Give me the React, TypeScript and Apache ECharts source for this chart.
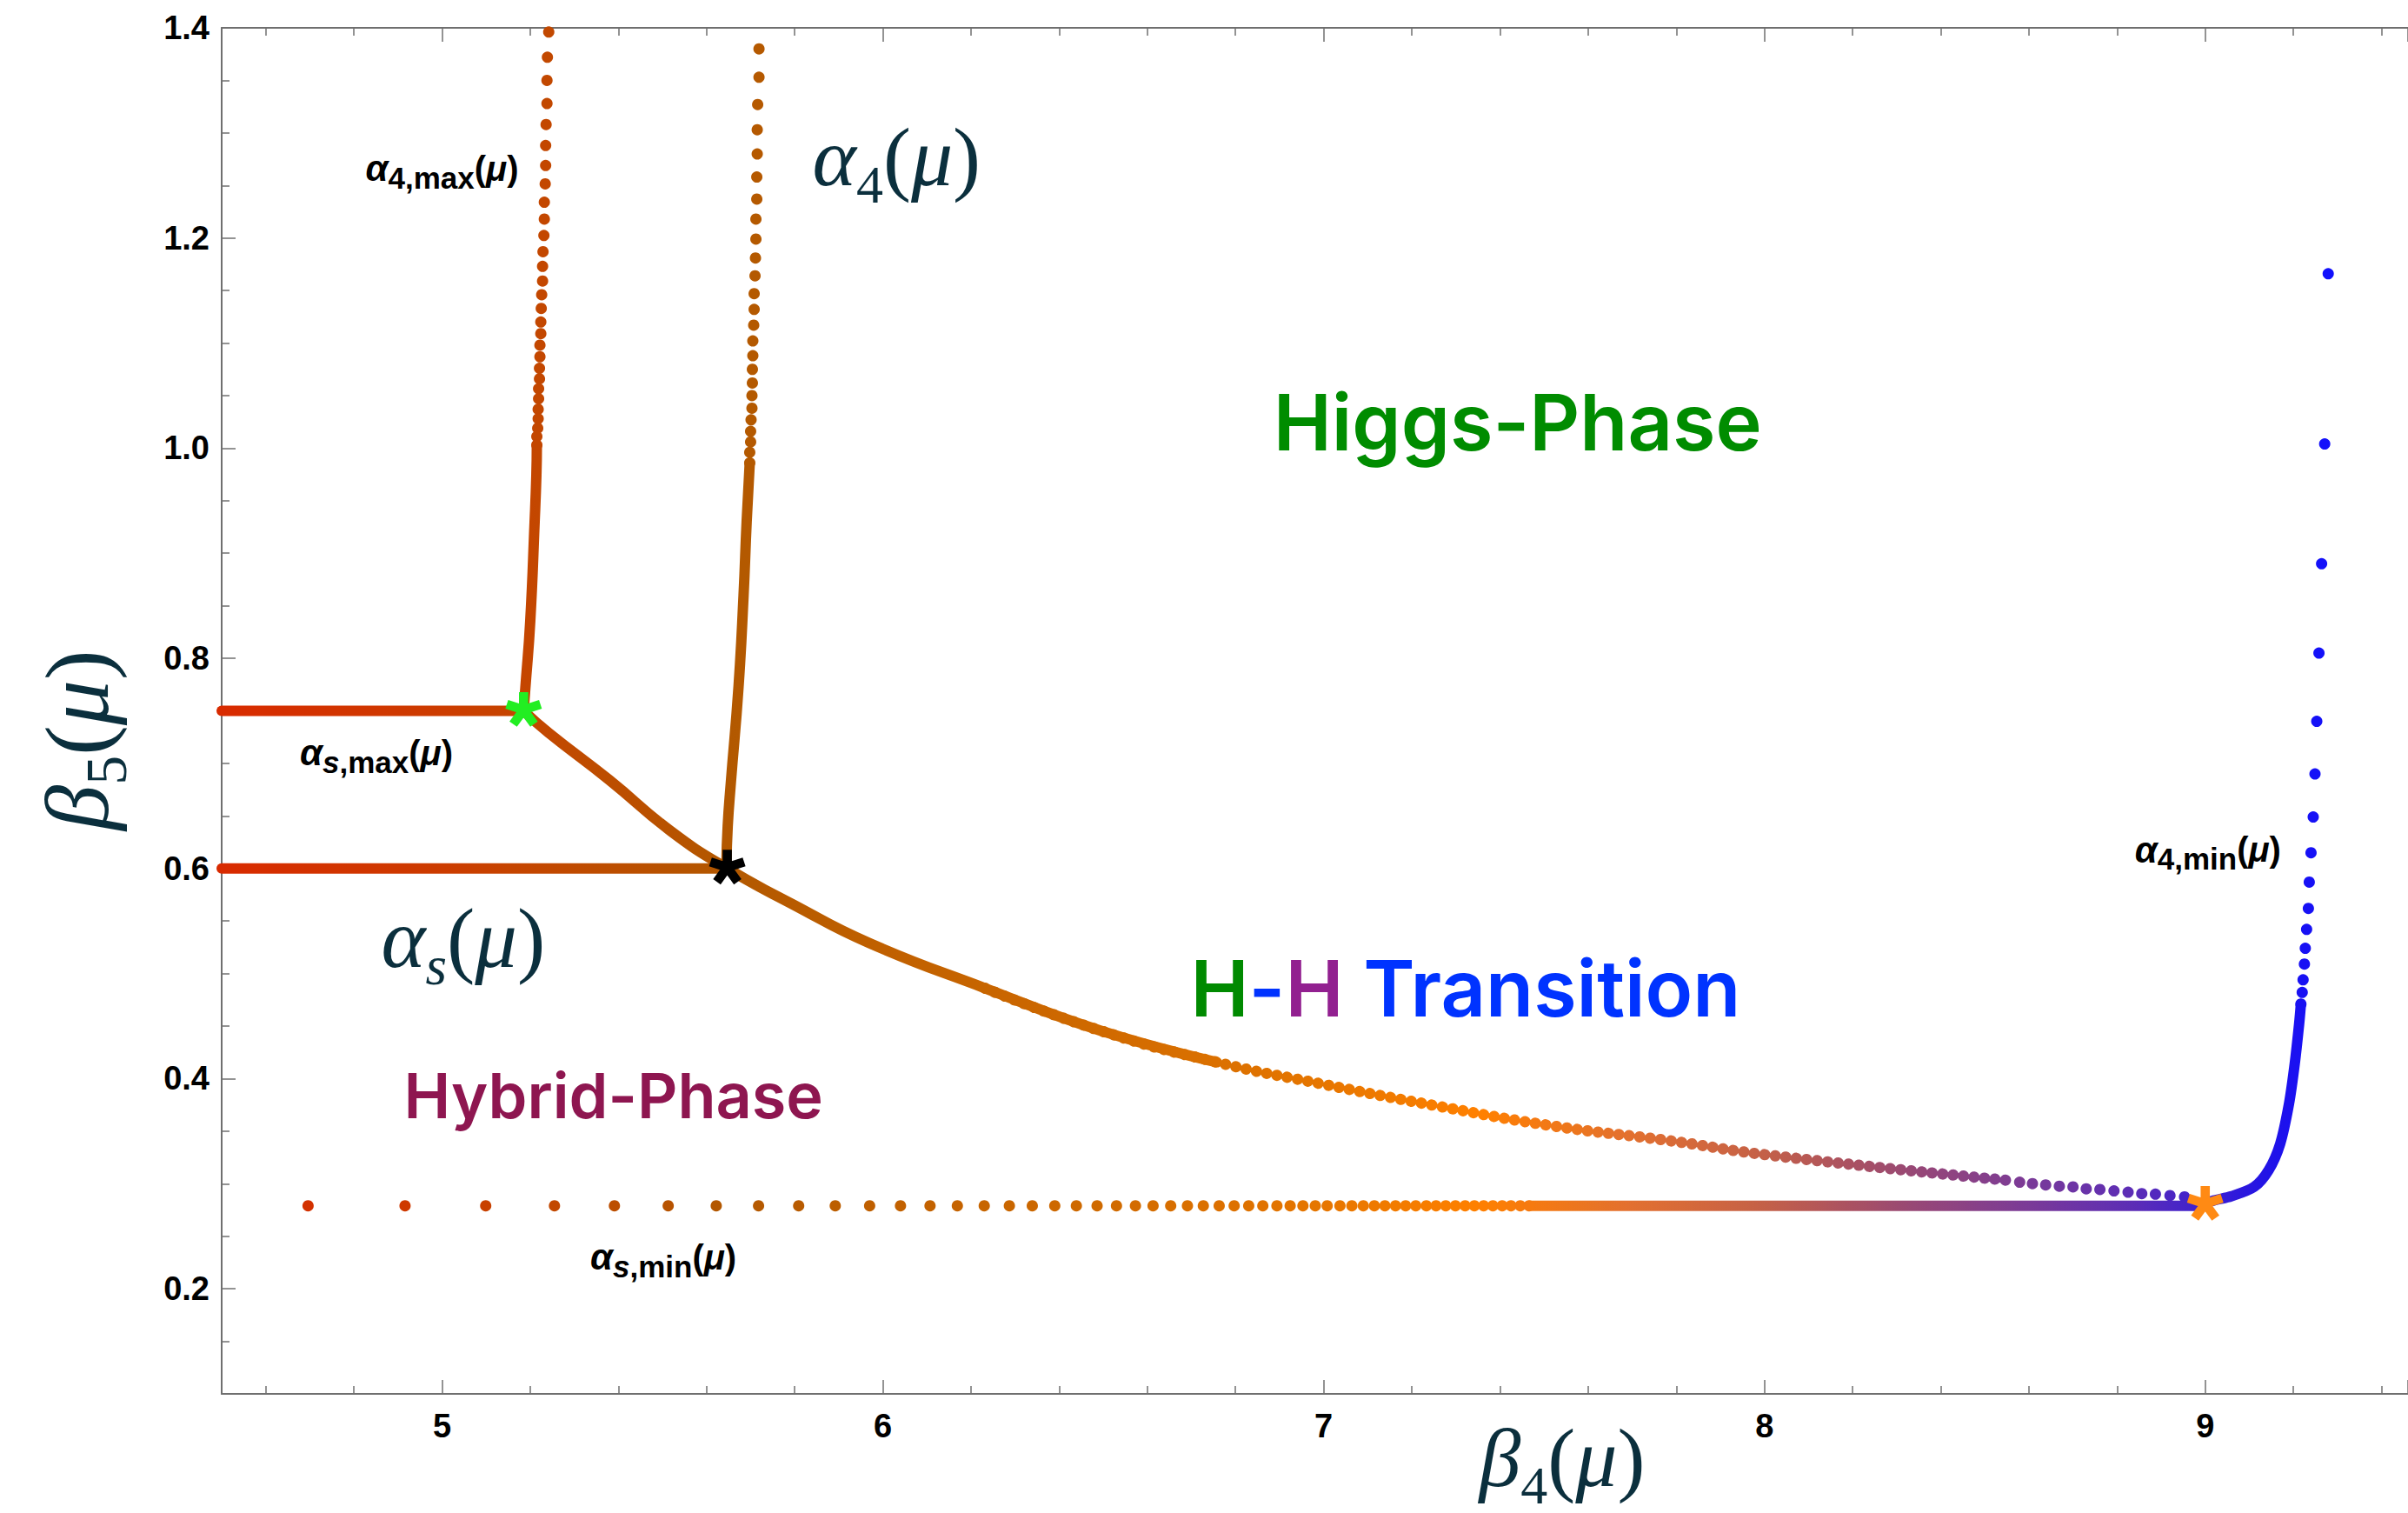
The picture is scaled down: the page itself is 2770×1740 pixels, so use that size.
import React, { useEffect, useRef } from 'react';
import * as echarts from 'echarts';

// ---------------- axis ranges ----------------
const X_MIN = 4.5;
const X_MAX = 9.46;
const Y_MIN = 0.1;
const Y_MAX = 1.4;

// ---------------- data ----------------
// alpha_s,max(mu): horizontal branch at beta5 = 0.75
const alphaSMaxLine = [[4.5, 0.75], [5.185, 0.75]];
// alpha_s(mu): horizontal branch at beta5 = 0.6
const alphaSLine = [[4.5, 0.6], [5.647, 0.6]];

// alpha_4,max(mu): dense lower part and separated dots at the top
const alpha4MaxLine = [[5.185, 0.75], [5.189, 0.772], [5.2, 0.835], [5.21, 0.93], [5.214, 0.975], [5.215, 1.003]];
const alpha4MaxDots = [
  [5.242, 1.396], [5.239, 1.372], [5.238, 1.35], [5.238, 1.328], [5.236, 1.308], [5.235, 1.288],
  [5.235, 1.269], [5.234, 1.2515], [5.232, 1.234], [5.232, 1.218], [5.231, 1.2024], [5.229, 1.187],
  [5.228, 1.173], [5.228, 1.159], [5.226, 1.146], [5.225, 1.133], [5.224, 1.12], [5.224, 1.109],
  [5.222, 1.098], [5.222, 1.087], [5.221, 1.076], [5.221, 1.066], [5.219, 1.0565], [5.219, 1.047],
  [5.218, 1.037], [5.218, 1.028], [5.217, 1.019], [5.215, 1.011], [5.215, 1.003],
];

// alpha_4(mu)
const alpha4Line = [[5.645, 0.603], [5.648, 0.64], [5.655, 0.681], [5.6726, 0.773], [5.684, 0.86], [5.691, 0.93], [5.698, 0.986]];
const alpha4Dots = [
  [5.719, 1.38], [5.719, 1.353], [5.716, 1.327], [5.715, 1.303], [5.715, 1.28], [5.714, 1.258],
  [5.714, 1.237], [5.712, 1.218], [5.712, 1.199], [5.711, 1.181], [5.71, 1.164], [5.708, 1.147],
  [5.708, 1.132], [5.707, 1.117], [5.705, 1.102], [5.705, 1.088], [5.704, 1.075], [5.704, 1.062],
  [5.703, 1.05], [5.703, 1.038], [5.701, 1.027], [5.7, 1.016], [5.7, 1.006], [5.698, 0.996], [5.698, 0.986],
];

// transition curve (from the green star to the orange star)
const transitionSolid = [
  [5.185, 0.75], [5.242, 0.729], [5.38, 0.684], [5.519, 0.6355], [5.647, 0.6], [5.795, 0.566],
  [5.969, 0.529], [6.232, 0.486], [6.495, 0.4455], [6.758, 0.4156],
];
const transitionDotted = [
  [6.232, 0.486], [6.495, 0.4455], [6.758, 0.4156], [6.995, 0.395], [7.257, 0.374], [7.52, 0.355],
  [7.783, 0.341], [8.014, 0.327], [8.549, 0.3033],
];
const transitionDotsX = [8.579, 8.608, 8.638, 8.669, 8.7, 8.73, 8.761, 8.793, 8.825, 8.856, 8.887, 8.92, 8.953];
const transitionDotsY = [0.3014, 0.3001, 0.2989, 0.2976, 0.297, 0.2951, 0.2945, 0.2932, 0.2919, 0.2906, 0.2901, 0.2887, 0.2875];

// alpha_s,min(mu): horizontal branch at beta5 = 0.279
const ALPHA_S_MIN = 0.279;
const alphaSMinDotsX = [
  4.696, 4.916, 5.099, 5.255, 5.391, 5.513, 5.622, 5.718, 5.809, 5.892, 5.97, 6.04, 6.107, 6.169,
  6.23, 6.287, 6.339, 6.39, 6.439, 6.486, 6.53, 6.573, 6.613, 6.653, 6.691, 6.727, 6.763, 6.797,
  6.83, 6.862, 6.894, 6.924, 6.953, 6.981, 7.008, 7.037, 7.064, 7.09, 7.115, 7.139, 7.163, 7.186,
  7.209, 7.233, 7.255, 7.277, 7.299, 7.321, 7.342, 7.363, 7.384, 7.405, 7.425, 7.446, 7.466,
];
const alphaSMinLineX = [7.466, 9.0];

// alpha_4,min(mu)
const alpha4MinLine = [
  [9.0, 0.281], [9.019, 0.284], [9.059, 0.288], [9.111, 0.297], [9.144, 0.313], [9.17, 0.338],
  [9.19, 0.376], [9.203, 0.414], [9.213, 0.452], [9.217, 0.471],
];
const alpha4MinDots = [
  [9.217, 0.471], [9.22, 0.482], [9.222, 0.494], [9.225, 0.509], [9.227, 0.524], [9.23, 0.542],
  [9.234, 0.562], [9.236, 0.587], [9.24, 0.615], [9.245, 0.649], [9.249, 0.69], [9.253, 0.74],
  [9.258, 0.805], [9.264, 0.89], [9.271, 1.004], [9.279, 1.166],
];

// special points (stars)
const greenStar = [[5.185, 0.751]];
const blackStar = [[5.647, 0.601]];
const orangeStar = [[9.0, 0.281]];

// annotation anchors (data coordinates)
const annotAlpha4Max = [5.0, 1.266];
const annotAlpha4 = [6.031, 1.277];
const annotAlphaSMax = [4.851, 0.71];
const annotAlphaS = [5.048, 0.533];
const annotHybrid = [5.389, 0.384];
const annotHiggs = [7.44, 1.025];
const annotHH = [7.322, 0.486];
const annotAlpha4Min = [9.006, 0.618];
const annotAlphaSMin = [5.502, 0.23];

// ---------------- styles ----------------
const W = 2770;
const H = 1740;
const GRID = { left: 255, right: 0, top: 32, bottom: 137 };
const AXIS_GRAY = '#6f6f6f';
const TEAL = '#0b2f3d';
const SANS = '"Liberation Sans", Arial, sans-serif';
const SERIF = '"Liberation Serif", "Times New Roman", serif';
const PHASE_FONT = 'Inter, "Noto Sans", sans-serif';
const DOT = 13;

// colour as a function of beta4 (gradient stops)
const COLOR_STOPS: [number, string][] = [
  [4.5, '#d82a00'], [5.0, '#cc3c00'], [5.2, '#c44600'], [5.65, '#b25800'], [6.0, '#c06000'],
  [6.5, '#d06a00'], [7.0, '#e67600'], [7.35, '#ff8000'], [7.7, '#e27030'], [8.0, '#c46048'],
  [8.3, '#9c4a70'], [8.6, '#7a3a98'], [8.85, '#5a2cb8'], [9.0, '#3c20d0'], [9.15, '#2012e8'], [9.3, '#1010ff'],
];
const VM_MIN = 4.5;
const VM_MAX = 9.3;

function hex2rgb(h: string) {
  return [parseInt(h.slice(1, 3), 16), parseInt(h.slice(3, 5), 16), parseInt(h.slice(5, 7), 16)];
}
function colorAt(x: number) {
  for (let i = 1; i < COLOR_STOPS.length; i++) {
    const [x1, c1] = COLOR_STOPS[i];
    const [x0, c0] = COLOR_STOPS[i - 1];
    if (x <= x1 + 1e-9) {
      const t = (x - x0) / (x1 - x0);
      const a = hex2rgb(c0);
      const b = hex2rgb(c1);
      const m = a.map((v, k) => Math.round(v + (b[k] - v) * t));
      return `rgb(${m[0]},${m[1]},${m[2]})`;
    }
  }
  return COLOR_STOPS[COLOR_STOPS.length - 1][1];
}
const GRADIENT_COLORS: string[] = [];
for (let i = 0; i <= 96; i++) GRADIENT_COLORS.push(colorAt(VM_MIN + ((VM_MAX - VM_MIN) * i) / 96));

// five-armed asterisk symbol
function asteriskPath() {
  const w = 13;
  const L = 50;
  const parts: string[] = [];
  for (let k = 0; k < 5; k++) {
    const th = (k * 72 * Math.PI) / 180;
    const dx = Math.sin(th), dy = -Math.cos(th);
    const nx = Math.cos(th), ny = Math.sin(th);
    const p = [
      [-nx * w, -ny * w],
      [nx * w, ny * w],
      [nx * w + dx * L, ny * w + dy * L],
      [-nx * w + dx * L, -ny * w + dy * L],
    ];
    parts.push('M' + p.map((q) => `${q[0].toFixed(2)} ${q[1].toFixed(2)}`).join(' L') + ' Z');
  }
  parts.push('M-0.05 50 L0.05 50 L0 49.95 Z');
  return 'path://' + parts.join(' ');
}
const STAR = asteriskPath();

const lineSeries = (data: number[][], extra: any = {}) => ({
  type: 'line',
  data,
  showSymbol: false,
  symbol: 'none',
  smooth: extra.smooth ?? 0.3,
  lineStyle: { width: DOT - 1, cap: 'round', join: 'round', opacity: 1, ...(extra.lineStyle || {}) },
  z: extra.z ?? 2,
  silent: true,
});
const dotSeries = (data: number[][]) => ({
  type: 'scatter',
  data,
  symbol: 'circle',
  symbolSize: DOT,
  itemStyle: { opacity: 1 },
  z: 3,
  silent: true,
});
const starSeries = (data: number[][], color: string) => ({
  type: 'scatter',
  data,
  symbol: STAR,
  symbolKeepAspect: true,
  symbolSize: 42,
  itemStyle: { color, opacity: 1 },
  z: 5,
  silent: true,
});

const axisCommon = {
  type: 'value',
  axisLine: { show: true, lineStyle: { color: AXIS_GRAY, width: 2 } },
  axisTick: { show: true, inside: true, length: 16, lineStyle: { color: AXIS_GRAY, width: 1.5 } },
  splitLine: { show: false },
};

function buildOption() {
  const series: any[] = [
    lineSeries(alphaSMaxLine),
    lineSeries(alphaSLine),
    lineSeries(alpha4MaxLine, { smooth: 0.5 }),
    dotSeries(alpha4MaxDots),
    lineSeries(alpha4Line, { smooth: 0.5 }),
    dotSeries(alpha4Dots),
    lineSeries(transitionSolid, { smooth: 0.5 }),
    lineSeries(transitionDotted, { smooth: 0.5, z: 1, lineStyle: { type: [0.1, 12], cap: 'round', width: DOT } }),
    dotSeries(transitionDotsX.map((x, i) => [x, transitionDotsY[i]])),
    dotSeries(alphaSMinDotsX.map((x) => [x, ALPHA_S_MIN])),
    lineSeries(alphaSMinLineX.map((x) => [x, ALPHA_S_MIN])),
    lineSeries(alpha4MinLine),
    dotSeries(alpha4MinDots),
  ];
  const nColored = series.length;
  series.push(starSeries(greenStar, '#22ee22'));
  series.push(starSeries(blackStar, '#000000'));
  series.push(starSeries(orangeStar, '#ff8a14'));

  return {
    animation: false,
    backgroundColor: '#ffffff',
    grid: { ...GRID, containLabel: false },
    xAxis: [
      {
        ...axisCommon,
        position: 'bottom',
        min: X_MIN,
        max: X_MAX,
        minInterval: 1,
        maxInterval: 1,
        axisLabel: {
          show: true,
          margin: 18,
          fontFamily: SANS,
          fontWeight: 'bold',
          fontSize: 38,
          color: '#000',
          showMinLabel: false,
          showMaxLabel: false,
        },
        minorTick: { show: true, splitNumber: 5, length: 9, lineStyle: { color: AXIS_GRAY, width: 1.5 } },
      },
      {
        ...axisCommon,
        position: 'top',
        min: X_MIN,
        max: X_MAX,
        minInterval: 1,
        maxInterval: 1,
        axisLabel: { show: false },
        minorTick: { show: true, splitNumber: 5, length: 9, lineStyle: { color: AXIS_GRAY, width: 1.5 } },
      },
    ],
    yAxis: [
      {
        ...axisCommon,
        position: 'left',
        min: Y_MIN,
        max: Y_MAX,
        minInterval: 0.2,
        maxInterval: 0.2,
        splitNumber: 6,
        axisLabel: {
          show: true,
          margin: 14,
          fontFamily: SANS,
          fontWeight: 'bold',
          fontSize: 38,
          color: '#000',
          showMinLabel: false,
          formatter: (v: number) => v.toFixed(1),
        },
        minorTick: { show: true, splitNumber: 4, length: 9, lineStyle: { color: AXIS_GRAY, width: 1.5 } },
      },
    ],
    visualMap: [
      {
        type: 'continuous',
        show: false,
        dimension: 0,
        min: VM_MIN,
        max: VM_MAX,
        seriesIndex: Array.from({ length: nColored }, (_, i) => i),
        inRange: { color: GRADIENT_COLORS, opacity: 1 },
      },
    ],
    series,
  };
}

// rich text styles
function mathRich(size: number) {
  const lh = Math.round(size * 1.3);
  const ss = Math.round(size * 0.65);
  return {
    it: { fontFamily: SERIF, fontStyle: 'italic', fontSize: size, lineHeight: lh, verticalAlign: 'middle', fill: TEAL },
    up: { fontFamily: SERIF, fontSize: size, lineHeight: lh, verticalAlign: 'middle', fill: TEAL },
    sub: { fontFamily: SERIF, fontSize: ss, lineHeight: ss, verticalAlign: 'bottom', fill: TEAL },
    subit: { fontFamily: SERIF, fontStyle: 'italic', fontSize: ss, lineHeight: ss, verticalAlign: 'bottom', fill: TEAL },
  };
}
function smallRich() {
  return {
    a: { fontFamily: SANS, fontStyle: 'italic', fontWeight: 'bold', fontSize: 42, lineHeight: 56, verticalAlign: 'middle', fill: '#000' },
    s: { fontFamily: SANS, fontWeight: 'bold', fontSize: 35, lineHeight: 35, verticalAlign: 'bottom', fill: '#000' },
    si: { fontFamily: SANS, fontStyle: 'italic', fontWeight: 'bold', fontSize: 35, lineHeight: 35, verticalAlign: 'bottom', fill: '#000' },
    p: { fontFamily: SANS, fontWeight: 'bold', fontSize: 40, lineHeight: 56, verticalAlign: 'middle', fill: '#000' },
    m: { fontFamily: SANS, fontStyle: 'italic', fontWeight: 'bold', fontSize: 40, lineHeight: 56, verticalAlign: 'middle', fill: '#000' },
  };
}

function buildGraphics(toPx: (p: number[]) => number[]) {
  const at = (p: number[]) => {
    const q = toPx(p);
    return { x: q[0], y: q[1] };
  };
  const txt = (pos: { x: number; y: number }, style: any, extra: any = {}) => ({
    type: 'text',
    ...pos,
    z: 100,
    silent: true,
    style: { align: 'center', verticalAlign: 'middle', ...style },
    ...extra,
  });
  const phase = (size: number, color: string) => ({
    fontFamily: PHASE_FONT,
    fontWeight: 600,
    fontSize: size,
    fill: color,
  });
  return [
    txt(at(annotAlpha4Max), { text: '{a|α}{s|4,max}{p|(}{m|μ}{p|)}', rich: smallRich() }),
    txt(at(annotAlphaSMax), { text: '{a|α}{si|s}{s|,max}{p|(}{m|μ}{p|)}', rich: smallRich() }),
    txt(at(annotAlpha4Min), { text: '{a|α}{s|4,min}{p|(}{m|μ}{p|)}', rich: smallRich() }),
    txt(at(annotAlphaSMin), { text: '{a|α}{si|s}{s|,min}{p|(}{m|μ}{p|)}', rich: smallRich() }),
    txt(at(annotAlpha4), { text: '{it|α}{sub|4}{up|(}{it|μ}{up|)}', rich: mathRich(96) }),
    txt(at(annotAlphaS), { text: '{it|α}{subit|s}{up|(}{it|μ}{up|)}', rich: mathRich(97) }),
    txt(at(annotHybrid), { text: 'Hybrid-Phase', ...phase(72, '#8e1650') }),
    txt(at(annotHiggs), { text: 'Higgs-Phase', ...phase(90, '#008c00') }),
    txt(at(annotHH), {
      text: '{g|H}{b|-}{m|H}{b| Transition}',
      rich: {
        g: phase(90, '#008a00'),
        b: phase(90, '#0033ff'),
        m: phase(90, '#922090'),
      },
    }),
    // axis titles
    txt({ x: 1797, y: 1676 }, { text: '{it|β}{sub|4}{up|(}{it|μ}{up|)}', rich: mathRich(96) }),
    txt({ x: 88, y: 851 }, { text: '{it|β}{sub|5}{up|(}{it|μ}{up|)}', rich: mathRich(104) }, { rotation: Math.PI / 2 }),
  ];
}

export default function App() {
  const ref = useRef<HTMLDivElement>(null);
  useEffect(() => {
    if (!ref.current) return;
    const chart = echarts.init(ref.current, null, { renderer: 'svg' });
    chart.setOption(buildOption() as any);
    const toPx = (p: number[]) => chart.convertToPixel({ xAxisIndex: 0, yAxisIndex: 0 }, p) as number[];
    chart.setOption({ graphic: buildGraphics(toPx) } as any);
    return () => chart.dispose();
  }, []);
  return (
    <div
      ref={ref}
      style={{ position: 'absolute', left: 0, top: 0, width: W, height: H, background: '#fff' }}
    />
  );
}
